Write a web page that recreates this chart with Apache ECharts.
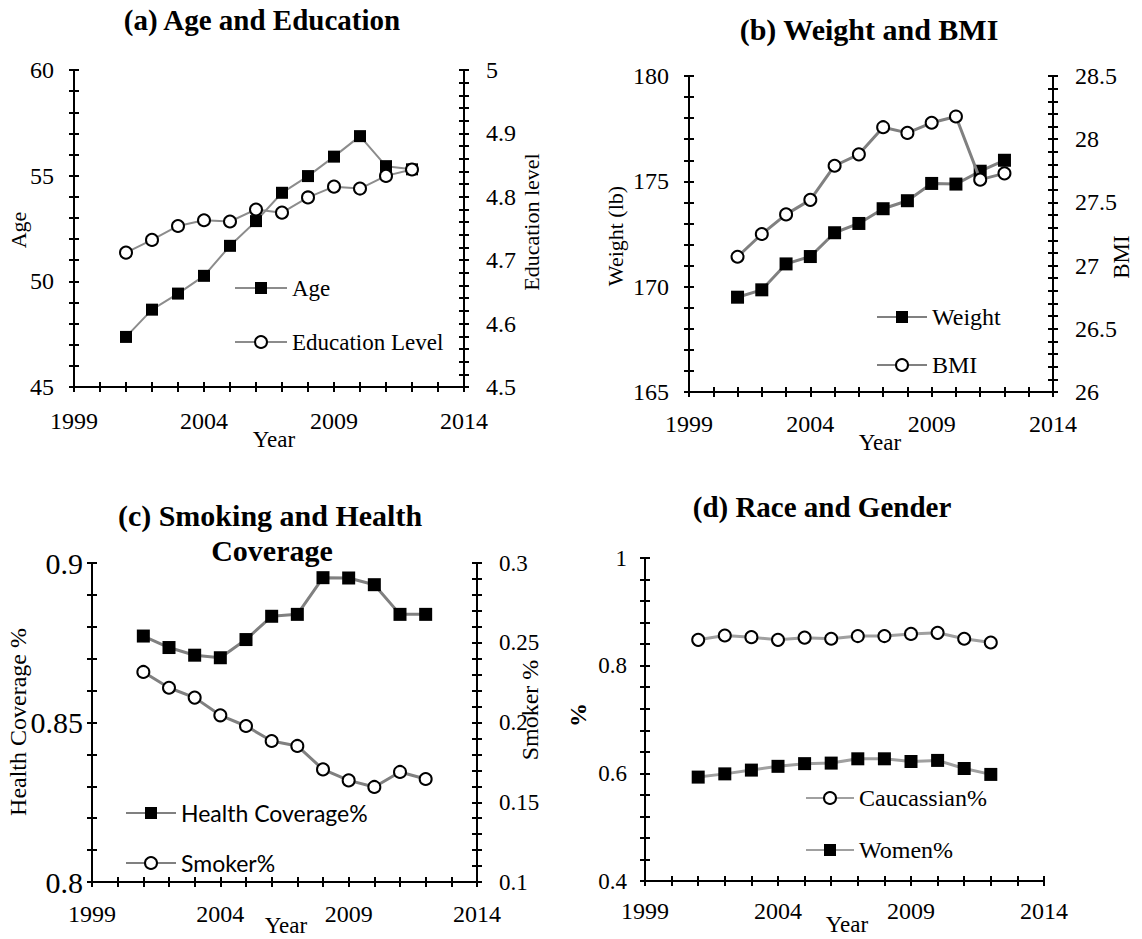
<!DOCTYPE html>
<html>
<head>
<meta charset="utf-8">
<script src="https://cdn.jsdelivr.net/npm/echarts@6/dist/echarts.min.js"></script>
<style>
html,body{margin:0;padding:0;background:#fff;}
#chart{width:1142px;height:939px;}
</style>
</head>
<body>
<div id="chart"></div>
<script>
// ---- data ----
const years = [2001, 2002, 2003, 2004, 2005, 2006, 2007, 2008, 2009, 2010, 2011, 2012];
const xTickLabels = [1999, 2004, 2009, 2014];
const age = [47.37, 48.66, 49.42, 50.26, 51.68, 52.85, 54.19, 54.98, 55.9, 56.87, 55.45, 55.3];
const educationLevel = [4.712, 4.732, 4.754, 4.763, 4.761, 4.780, 4.775, 4.799, 4.816, 4.813, 4.833, 4.843];
const weight = [169.5, 169.85, 171.08, 171.43, 172.56, 173.0, 173.7, 174.08, 174.9, 174.87, 175.48, 176.0];
const bmi = [27.07, 27.25, 27.405, 27.52, 27.79, 27.88, 28.095, 28.05, 28.13, 28.18, 27.68, 27.73];
const healthCoverage = [0.8771, 0.8735, 0.8711, 0.8703, 0.876, 0.8833, 0.8839, 0.8954, 0.8953, 0.8932, 0.8839, 0.8839];
const smoker = [0.2317, 0.2218, 0.2156, 0.2045, 0.1978, 0.1884, 0.1853, 0.1706, 0.1637, 0.1596, 0.1690, 0.1646];
const caucassian = [0.848, 0.856, 0.853, 0.848, 0.852, 0.850, 0.855, 0.855, 0.859, 0.861, 0.850, 0.843];
const women = [0.593, 0.599, 0.606, 0.613, 0.618, 0.619, 0.627, 0.627, 0.622, 0.624, 0.609, 0.598];

const SERIF = '"Liberation Serif", "Times New Roman", serif';
const SANS = 'Lato, "Liberation Sans", sans-serif';

function pairs(vals) { return years.map((y, i) => [y, vals[i]]); }
function near(v, step) { const r = v / step; return Math.abs(r - Math.round(r)) < 1e-6; }
function fmt(v) { return String(Math.round(v * 1000) / 1000); }

// panel layout: grid edges in px
const panels = [
  { L: 74, T: 70, R: 464, B: 387, xFont: 24, yFontL: 24, yFontR: 24, yMarginL: 20, yMarginR: 22, xMargin: 22,
    yl: { min: 45, max: 60, interval: 1, major: 5 }, yr: { min: 4.5, max: 5, interval: 0.02, major: 0.1 } },
  { L: 689, T: 76, R: 1053, B: 392, xFont: 24, yFontL: 24, yFontR: 24, yMarginL: 20, yMarginR: 22, xMargin: 20,
    yl: { min: 165, max: 180, interval: 1, major: 5 }, yr: { min: 26, max: 28.5, interval: 0.1, major: 0.5 } },
  { L: 92, T: 563, R: 477, B: 882, xFont: 24, yFontL: 30, yFontR: 23, yMarginL: 9, yMarginR: 22, xMargin: 20,
    yl: { min: 0.8, max: 0.9, interval: 0.01, major: 0.05 }, yr: { min: 0.1, max: 0.3, interval: 0.01, major: 0.05 } },
  { L: 645, T: 558, R: 1044, B: 881, xFont: 24, yFontL: 23, yFontR: 23, yMarginL: 18, yMarginR: 22, xMargin: 18,
    yl: { min: 0.4, max: 1, interval: 0.04, major: 0.2 }, yr: null }
];

const grid = [], xAxis = [], yAxis = [];
const tickStyle = { color: '#000', width: 2 };
const yIdx = [];
panels.forEach((p, gi) => {
  grid.push({ left: p.L, top: p.T, width: p.R - p.L, height: p.B - p.T, containLabel: false });
  const xBase = {
    type: 'value', gridIndex: gi, min: 1999, max: 2014, interval: 1, position: 'bottom',
    splitLine: { show: false }
  };
  xAxis.push(Object.assign({}, xBase, {
    axisLine: { show: true, onZero: false, lineStyle: { color: '#000', width: 2 } },
    axisTick: { show: true, inside: false, length: 5, lineStyle: tickStyle },
    axisLabel: { show: true, margin: p.xMargin, color: '#000', fontFamily: SERIF, fontSize: p.xFont,
      formatter: v => (xTickLabels.indexOf(Math.round(v)) >= 0 ? String(Math.round(v)) : '') }
  }));
  xAxis.push(Object.assign({}, xBase, {
    axisLine: { show: false, onZero: false },
    axisTick: { show: true, inside: true, length: 5, lineStyle: tickStyle },
    axisLabel: { show: false }
  }));
  const idx = {};
  [['left', p.yl, p.yMarginL, p.yFontL], ['right', p.yr, p.yMarginR, p.yFontR]].forEach(([pos, ax, mg, fs]) => {
    if (!ax) return;
    const base = { type: 'value', gridIndex: gi, position: pos, min: ax.min, max: ax.max, interval: ax.interval,
      splitLine: { show: false } };
    idx[pos] = yAxis.length;
    yAxis.push(Object.assign({}, base, {
      axisLine: { show: true, onZero: false, lineStyle: { color: '#000', width: 2 } },
      axisTick: { show: true, inside: false, length: 5, lineStyle: tickStyle },
      axisLabel: { show: true, margin: mg, color: '#000', fontFamily: SERIF, fontSize: fs,
        formatter: v => (near(v, ax.major) ? fmt(v) : '') }
    }));
    yAxis.push(Object.assign({}, base, {
      axisLine: { show: false, onZero: false },
      axisTick: { show: true, inside: true, length: 5, lineStyle: tickStyle },
      axisLabel: { show: false }
    }));
  });
  yIdx.push(idx);
});

function lineSeries(name, vals, gi, side, kind, lineColor, lineWidth, size) {
  const filled = kind === 'square';
  return {
    name, type: 'line', xAxisIndex: gi * 2, yAxisIndex: yIdx[gi][side], data: pairs(vals),
    symbol: filled ? 'rect' : 'circle', symbolSize: size,
    lineStyle: { color: lineColor, width: lineWidth },
    itemStyle: filled ? { color: '#000', borderColor: '#000', borderWidth: 0 }
                      : { color: '#fff', borderColor: '#000', borderWidth: 2 },
    emphasis: { disabled: true }, animation: false, z: filled ? 3 : 4
  };
}

const series = [
  lineSeries('Age', age, 0, 'left', 'square', '#8c8c8c', 2, 12),
  lineSeries('Education Level', educationLevel, 0, 'right', 'circle', '#8c8c8c', 2, 12),
  lineSeries('Weight', weight, 1, 'left', 'square', '#808080', 3, 13),
  lineSeries('BMI', bmi, 1, 'right', 'circle', '#808080', 3, 12),
  lineSeries('Health Coverage%', healthCoverage, 2, 'left', 'square', '#808080', 3, 13),
  lineSeries('Smoker%', smoker, 2, 'right', 'circle', '#808080', 3, 12),
  lineSeries('Caucassian%', caucassian, 3, 'left', 'circle', '#a0a0a0', 3, 12),
  lineSeries('Women%', women, 3, 'left', 'square', '#a0a0a0', 3, 13)
];

function leg(name, left, centerY, width, font, size) {
  return {
    data: [name], left: left, top: centerY - size / 2, padding: 0, orient: 'vertical',
    itemWidth: width, itemHeight: 15, selectedMode: false,
    textStyle: { color: '#000', fontFamily: font, fontSize: size }
  };
}
const legend = [
  leg('Age', 234, 288, 52, SERIF, 23),
  leg('Education Level', 234, 342, 52, SERIF, 23),
  leg('Weight', 876, 317, 50, SERIF, 24),
  leg('BMI', 876, 365, 50, SERIF, 24),
  leg('Health Coverage%', 125, 813, 50, SANS, 23),
  leg('Smoker%', 125, 863, 50, SANS, 23),
  leg('Caucassian%', 805, 798, 48, SERIF, 24),
  leg('Women%', 805, 850, 48, SERIF, 24)
];

function txt(text, x, y, size, opts) {
  opts = opts || {};
  const font = (opts.bold ? 'bold ' : '') + size + 'px ' + (opts.family || SERIF);
  return {
    type: 'text', x: x, y: y, rotation: opts.rot ? Math.PI / 2 : 0, silent: true,
    style: { text: text, font: font, fill: '#000', textAlign: 'center', textVerticalAlign: 'middle',
      align: 'center', verticalAlign: 'middle' }
  };
}
const graphic = [
  txt('(a) Age and Education', 262, 20, 29, { bold: true }),
  txt('(b) Weight and BMI', 869, 29, 30, { bold: true }),
  txt('(c) Smoking and Health', 270, 515, 30, { bold: true }),
  txt('Coverage', 272, 550, 30, { bold: true }),
  txt('(d) Race and Gender', 822, 507, 29, { bold: true }),
  txt('Age', 18, 230, 22, { rot: true }),
  txt('Education level', 531, 222, 22, { rot: true }),
  txt('Year', 274, 439, 23),
  txt('Weight (lb)', 615, 236, 22, { rot: true }),
  txt('BMI', 1121, 257, 23, { rot: true }),
  txt('Year', 880, 442, 23),
  txt('Health Coverage %', 18, 722, 24, { rot: true }),
  txt('Smoker %', 530, 710, 24, { rot: true }),
  txt('Year', 286, 925, 23),
  txt('%', 578, 715, 24, { rot: true, bold: true }),
  txt('Year', 847, 924, 23)
];

const chart = echarts.init(document.getElementById('chart'), null, { renderer: 'svg', width: 1142, height: 939 });
chart.setOption({
  backgroundColor: '#fff',
  animation: false,
  grid, xAxis, yAxis, series, legend, graphic
});
</script>
</body>
</html>
